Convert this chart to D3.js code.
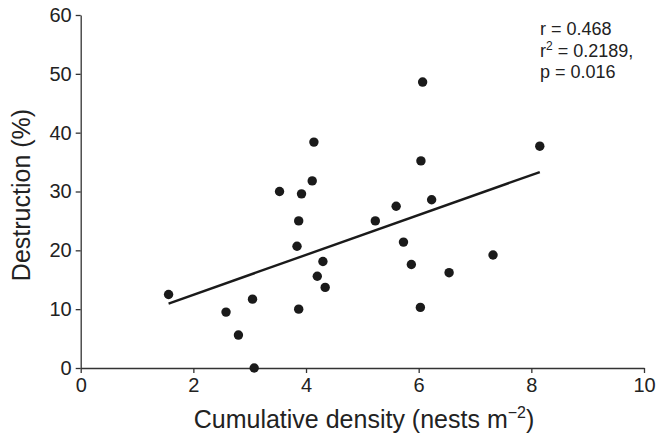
<!DOCTYPE html>
<html>
<head>
    <meta charset="utf-8">
    <style>
        body {
            margin: 0;
            background: #fff;
        }

        svg {
            font-family: 'Liberation Sans', Arial, sans-serif;
        }

        .axis path,
        .axis line {
            stroke: #333;
            stroke-width: 1.3;
        }

        .axis text {
            font-size: 20px;
            fill: #222;
        }
    </style>
</head>
<body>
    <svg width="656" height="433"></svg>

<script src="https://d3js.org/d3.v7.min.js"></script>
<script>
    // cumulative density (nests m-2) and destruction (%)
    let density = [1.56, 2.58, 2.80, 3.05, 3.08, 3.53, 3.84, 3.87, 3.92, 3.87,
        4.11, 4.14, 4.20, 4.30, 4.34, 5.23, 5.60, 5.73, 5.87, 6.04,
        6.23, 6.03, 6.54, 7.32, 8.15, 6.07]
    let destruction = [12.5, 9.5, 5.6, 11.7, 0, 30.0, 20.7, 25.0, 29.6, 10.0,
        31.8, 38.4, 15.6, 18.1, 13.7, 25.0, 27.5, 21.4, 17.6, 35.2,
        28.6, 10.3, 16.2, 19.2, 37.7, 48.6]

    // fitted line end points
    let fitX = [1.56, 8.15]
    let fitY = [10.95, 33.3]

    let xTicks = [0, 2, 4, 6, 8, 10]
    let yTicks = [0, 10, 20, 30, 40, 50, 60]
    let stats = ["r = 0.468", "r|2| = 0.2189,", "p = 0.016"]

    let margin = { top: 15, right: 12, bottom: 65, left: 80.7 }
    let width = 656
    let height = 433

    let svg = d3.select("svg")

    let x = d3.scaleLinear()
        .domain([0, 10])
        .range([margin.left, width - margin.right])

    let y = d3.scaleLinear()
        .domain([0, 60])
        .range([height - margin.bottom, margin.top])

    // axes
    svg.append("g")
        .attr("class", "axis")
        .attr("transform", "translate(0," + y(0) + ")")
        .call(d3.axisBottom(x).tickValues(xTicks).tickSize(5).tickPadding(5).tickSizeOuter(0))

    svg.append("g")
        .attr("class", "axis")
        .attr("transform", "translate(" + x(0) + ",0)")
        .call(d3.axisLeft(y).tickValues(yTicks).tickSize(5).tickPadding(4).tickSizeOuter(0))

    // regression line
    svg.append("line")
        .attr("x1", x(fitX[0]))
        .attr("y1", y(fitY[0]))
        .attr("x2", x(fitX[1]))
        .attr("y2", y(fitY[1]))
        .style("stroke", "#1a1a1a")
        .style("stroke-width", 2.4)

    // points
    svg.append("g")
        .selectAll("circle")
        .data(density)
        .join("circle")
        .attr("cx", d => x(d))
        .attr("cy", (d, i) => y(destruction[i]))
        .attr("r", 4.7)
        .style("fill", "#1a1a1a")

    // axis titles
    svg.append("text")
        .attr("transform", "translate(30," + 195 + ") rotate(-90)")
        .attr("text-anchor", "middle")
        .style("font-size", "25px")
        .style("fill", "#222")
        .text("Destruction (%)")

    let xt = svg.append("text")
        .attr("x", 364)
        .attr("y", 428)
        .attr("text-anchor", "middle")
        .style("font-size", "25px")
        .style("fill", "#222")
    xt.append("tspan").text("Cumulative density (nests m")
    xt.append("tspan").attr("dy", -10).style("font-size", "16px").text("\u22122")
    xt.append("tspan").attr("dy", 10).text(")")

    // stats box
    let st = svg.append("g")
        .style("font-size", "18px")
        .style("fill", "#222")

    stats.forEach((s, i) => {
        let t = st.append("text")
            .attr("x", 540)
            .attr("y", 35 + i * 21.5)
        let parts = s.split("|")
        t.append("tspan").text(parts[0])
        if (parts.length > 1) {
            t.append("tspan").attr("dy", -7).style("font-size", "12px").text(parts[1])
            t.append("tspan").attr("dy", 7).text(parts[2])
        }
    })
</script>
</body>
</html>
